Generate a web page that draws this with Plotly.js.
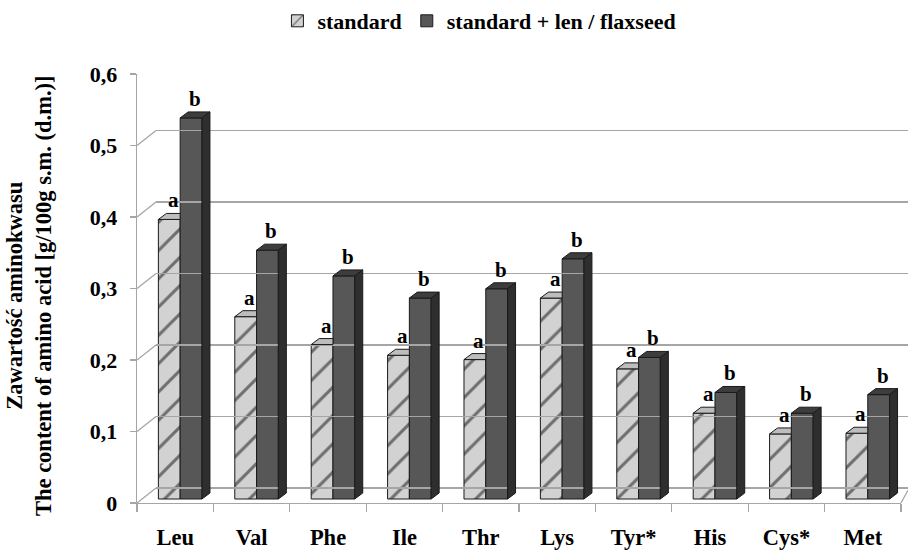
<!DOCTYPE html>
<html><head><meta charset="utf-8">
<script src="https://cdn.plot.ly/plotly-3.0.1.min.js"></script>
<style>html,body{margin:0;padding:0;background:#fff}</style>
</head><body>
<div id="chart" style="width:908px;height:551px"></div>
<script>
// ---- data ----
const categories = ['Leu','Val','Phe','Ile','Thr','Lys','Tyr*','His','Cys*','Met'];
const standard   = [0.391,0.255,0.216,0.201,0.195,0.281,0.182,0.120,0.091,0.092];
const flaxseed   = [0.533,0.348,0.312,0.281,0.294,0.336,0.198,0.149,0.120,0.146];
const labelsA    = ['a','a','a','a','a','a','a','a','a','a'];
const labelsB    = ['b','b','b','b','b','b','b','b','b','b'];
const seriesNames = ['standard','standard + len / flaxseed'];
const yTickVals  = [0,0.1,0.2,0.3,0.4,0.5,0.6];
const yTickText  = ['0','0,1','0,2','0,3','0,4','0,5','0,6'];
const yTitle     = 'Zawartość aminokwasu<br>The content of amino acid [g/100g s.m. (d.m.)]';

// ---- geometry / style ----
const W = 908, L = 137, R = 0;
const plotW = W - L - R;
const frontW = 764;
const pxPerCat = frontW / categories.length;
const pxPerUnit = 429 / 0.6;
const backDX = 19, backDY = 15;   // back wall offset (px)
const barLift = 4;                // bars sit slightly behind front edge
const dx = 8 / pxPerCat, dy = 6 / pxPerUnit;
const bw = 0.285, offA = -0.22, offB = 0.065;
const serif = 'Liberation Serif, Times New Roman, serif';
const gridCol = '#a6a6a6';

const traces = [
  {type:'bar', name: seriesNames[0], x: categories, y: standard, width: bw, offset: offA,
   xaxis:'x', yaxis:'y3',
   marker:{color:'#c8c8c8', line:{color:'#1a1a1a', width:1},
     pattern:{shape:'/', fgcolor:'#6e6e6e', bgcolor:'#d2d2d2', size:20, solidity:0.15}},
   hoverinfo:'skip'},
  {type:'bar', name: seriesNames[1], x: categories, y: flaxseed, width: bw, offset: offB,
   xaxis:'x', yaxis:'y3',
   marker:{color:'#575757', line:{color:'#1a1a1a', width:1}}, hoverinfo:'skip'},
  {type:'scatter', x:[], y:[], xaxis:'x2', yaxis:'y2', showlegend:false, hoverinfo:'skip'}
];

const shapes = [];
const annotations = [];
categories.forEach((c, i) => {
  const a0 = i + offA, a1 = a0 + bw, va = standard[i];
  shapes.push({type:'path', xref:'x', yref:'y3', layer:'above',
    path:`M${a0},${va} L${a1},${va} L${a1},${va+dy} L${a0+dx},${va+dy} Z`,
    fillcolor:'#bdbdbd', line:{color:'#1a1a1a', width:1}});
  const b0 = i + offB, b1 = b0 + bw, vb = flaxseed[i];
  shapes.push({type:'path', xref:'x', yref:'y3', layer:'above',
    path:`M${b0},${vb} L${b1},${vb} L${b1+dx},${vb+dy} L${b0+dx},${vb+dy} Z`,
    fillcolor:'#3d3d3d', line:{color:'#1a1a1a', width:1}});
  shapes.push({type:'path', xref:'x', yref:'y3', layer:'above',
    path:`M${b1},0 L${b1},${vb} L${b1+dx},${vb+dy} L${b1+dx},${dy} Z`,
    fillcolor:'#2e2e2e', line:{color:'#1a1a1a', width:1}});
  annotations.push({xref:'x', yref:'y3', x: a0 + bw/2 + dx/2, y: va + dy, text: labelsA[i],
    showarrow:false, yanchor:'bottom', yshift:-1, font:{family:serif, size:21, weight:'bold', color:'#000'}});
  annotations.push({xref:'x', yref:'y3', x: b0 + bw/2 + dx/2, y: vb + dy, text: labelsB[i],
    showarrow:false, yanchor:'bottom', yshift:-1, font:{family:serif, size:21, weight:'bold', color:'#000'}});
});
// y-axis title (two lines)
annotations.push({xref:'paper', yref:'paper', x:(29 - L)/plotW, y:(503 - 296)/429, xanchor:'center', yanchor:'middle',
  textangle:-90, showarrow:false, text:yTitle, font:{family:serif, size:22.5, weight:'bold', color:'#000'}});

// diagonal connectors from front axis ticks to back wall
const backOff = backDY / pxPerUnit;
yTickVals.forEach(v => {
  shapes.push({type:'line', xref:'paper', yref:'y', layer:'below',
    x0:0, x1: backDX/plotW, y0:v, y1:v+backOff, line:{color:gridCol, width:1.3}});
});
shapes.push({type:'line', xref:'paper', yref:'y', layer:'below',
  x0: frontW/plotW, x1: 1, y0:0, y1: backOff*0.85, line:{color:gridCol, width:1.3}});

const layout = {
  width: 908, height: 551,
  margin:{l:L, r:R, t:74, b:48},
  paper_bgcolor:'#fff', plot_bgcolor:'rgba(0,0,0,0)',
  barmode:'overlay',
  showlegend:true,
  legend:{orientation:'h', xref:'container', yref:'container', x:0.528, xanchor:'center', y:1.0, yanchor:'top',
    font:{family:serif, size:22, weight:'bold', color:'#000'}, itemwidth:30, tracegroupgap:0},
  xaxis:{type:'category', domain:[0, frontW/plotW], range:[-0.5, 9.5], tickson:'boundaries',
    ticks:'outside', ticklen:8, tickcolor:gridCol, tickwidth:1.3,
    showline:true, linecolor:gridCol, linewidth:1.3, showgrid:false, zeroline:false,
    tickfont:{family:serif, size:22.5, weight:'bold', color:'#000'}, ticklabelstandoff:14, anchor:'y'},
  yaxis:{range:[0,0.6], domain:[0,1], tickvals:yTickVals, ticktext:yTickText,
    ticks:'outside', ticklen:6, tickcolor:gridCol, tickwidth:1.3,
    showline:true, linecolor:gridCol, linewidth:1.3, showgrid:false, zeroline:false,
    tickfont:{family:serif, size:22, weight:'bold', color:'#000'}, ticklabelstandoff:8},
  xaxis2:{domain:[backDX/plotW, 1], range:[0,1], showticklabels:false, ticks:'', showgrid:false,
    zeroline:false, showline:false, anchor:'y2'},
  yaxis2:{overlaying:'y', anchor:'x2', range:[-backOff, 0.6-backOff], tickvals:yTickVals,
    showticklabels:false, ticks:'', showgrid:true, gridcolor:gridCol, gridwidth:1.7, zeroline:false, showline:false},
  yaxis3:{overlaying:'y', anchor:'x', range:[-barLift/pxPerUnit, 0.6-barLift/pxPerUnit], visible:false},
  shapes, annotations
};
Plotly.newPlot('chart', traces, layout, {displayModeBar:false, staticPlot:true});
</script>
</body></html>
